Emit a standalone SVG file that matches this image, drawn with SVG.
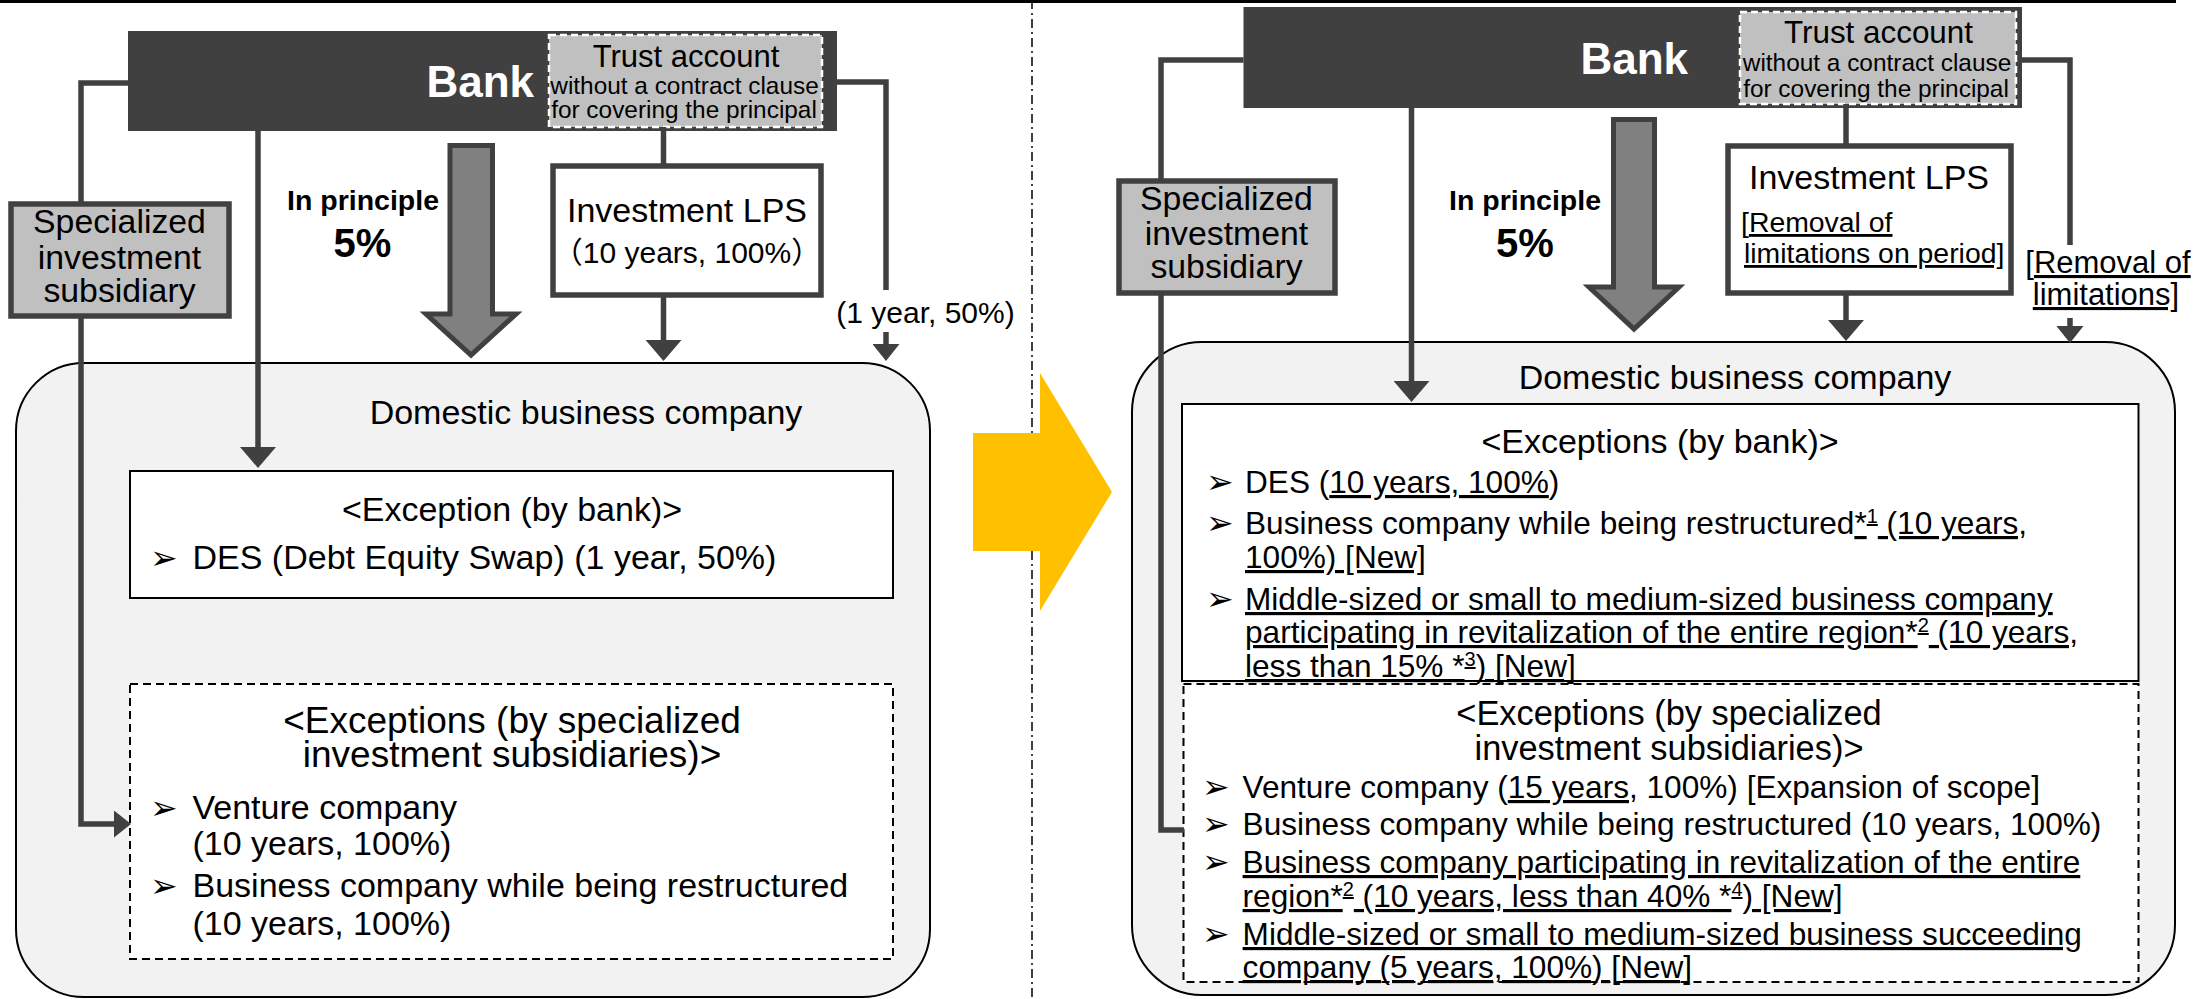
<svg xmlns="http://www.w3.org/2000/svg" width="2195" height="999" viewBox="0 0 2195 999">
<style>
text{font-family:"Liberation Sans",Arial,"Noto Sans CJK JP",sans-serif;fill:#000}
.b{font-weight:bold}
.w{fill:#fff}
.c{text-anchor:middle}
.e{text-anchor:end}
.u{text-decoration:underline}
.bul{font-family:"DejaVu Sans",sans-serif;font-size:33px}
.bank{fill:#404040}
.trust{fill:#c0c0c0;stroke:#fff;stroke-width:2.5;stroke-dasharray:7 4}
.sub{fill:#c0c0c0;stroke:#404040;stroke-width:5.5}
.lps{fill:#fff;stroke:#404040;stroke-width:5.5}
.dom{fill:#f2f2f2;stroke:#000;stroke-width:2}
.exc{fill:#fff;stroke:#000;stroke-width:2}
.exd{fill:#fff;stroke:#000;stroke-width:2;stroke-dasharray:8 5}
.big{fill:#808080;stroke:#404040;stroke-width:5}
.ln{fill:none;stroke:#404040;stroke-width:5.5}
.t34{font-size:34px}
.t316{font-size:31.6px}
</style>
<defs>
<marker id="ah" markerUnits="userSpaceOnUse" markerWidth="21" markerHeight="36" refX="0" refY="18" orient="auto" viewBox="0 0 21 36"><path d="M0,0L21,18L0,36Z" fill="#404040"/></marker>
<marker id="as" markerUnits="userSpaceOnUse" markerWidth="17" markerHeight="27" refX="0" refY="13.5" orient="auto" viewBox="0 0 17 27"><path d="M0,0L17,13.5L0,27Z" fill="#404040"/></marker>
</defs>

<!-- page frame: top rule and panel divider -->
<rect x="0" y="0" width="2176" height="3" fill="#000"/>
<line x1="1032" y1="0" x2="1032" y2="999" stroke="#000" stroke-width="1.5" stroke-dasharray="9 4 2 4"/>

<!-- ===== current system (left) ===== -->
<g id="domestic-left">
  <rect class="dom" x="16" y="363" width="914" height="634" rx="68" ry="68"/>
  <text class="t34 c" x="586" y="424">Domestic business company</text>
</g>
<g id="exception-bank-left">
  <rect class="exc" x="130" y="471" width="763" height="127"/>
  <text class="t34 c" x="512" y="521">&lt;Exception (by bank)&gt;</text>
  <text class="bul" x="150" y="569">➢</text>
  <text class="t34" x="192.5" y="569">DES (Debt Equity Swap) (1 year, 50%)</text>
</g>
<g id="exception-sub-left">
  <rect class="exd" x="130" y="684" width="763" height="275"/>
  <text class="c" font-size="37" x="512" y="733">&lt;Exceptions (by specialized</text>
  <text class="c" font-size="37" x="512" y="767">investment subsidiaries)&gt;</text>
  <text class="bul" x="150" y="819">➢</text>
  <text class="t34" x="192.5" y="819">Venture company</text>
  <text class="t34" x="192.5" y="855">(10 years, 100%)</text>
  <text class="bul" x="150" y="897">➢</text>
  <text class="t34" x="192.5" y="897">Business company while being restructured</text>
  <text class="t34" x="192.5" y="935">(10 years, 100%)</text>
</g>
<g id="bank-left">
  <rect class="bank" x="128" y="31" width="709" height="100"/>
  <text class="b w e" font-size="44" x="534" y="97">Bank</text>
</g>
<g id="trust-left">
  <rect class="trust" x="549" y="35" width="273" height="92"/>
  <text class="c" font-size="31" x="686" y="67">Trust account</text>
  <text class="c" font-size="24.4" x="684.5" y="94">without a contract clause</text>
  <text class="c" font-size="24.4" x="684" y="118">for covering the principal</text>
</g>
<g id="subsidiary-left">
  <rect class="sub" x="11" y="204" width="218" height="112"/>
  <text class="c" font-size="33.8" x="119.5" y="233">Specialized</text>
  <text class="c" font-size="33.8" x="119.5" y="269">investment</text>
  <text class="c" font-size="33.8" x="119.5" y="302">subsidiary</text>
</g>
<g id="lps-left">
  <rect class="lps" x="553" y="166" width="268" height="129"/>
  <text class="t34 c" x="687" y="222">Investment LPS</text>
  <text class="c" font-size="30" x="687" y="263">（10 years, 100%）</text>
</g>
<g id="principle-left">
  <polygon class="big" points="450,145.5 492.5,145.5 492.5,314 516,314 471,355 426,314 450,314"/>
  <text class="b c" font-size="28.5" x="363" y="210">In principle</text>
  <text class="b c" font-size="40" x="362.5" y="257">5%</text>
</g>
<text class="c" font-size="30" x="925.5" y="323">(1 year, 50%)</text>

<!-- change arrow between panels -->
<polygon fill="#ffc000" points="973,433 1040,433 1040,373 1112,492 1040,611 1040,551 973,551"/>

<!-- ===== revised system (right) ===== -->
<g id="domestic-right">
  <rect class="dom" x="1132" y="342" width="1043" height="653" rx="70" ry="70"/>
  <text class="t34 c" x="1735" y="389">Domestic business company</text>
</g>
<g id="exception-bank-right">
  <rect class="exc" x="1182" y="404" width="956.5" height="277"/>
  <text class="t34 c" x="1660" y="453">&lt;Exceptions (by bank)&gt;</text>
  <text class="bul" x="1206" y="493">➢</text>
  <text class="t316" x="1245" y="493">DES (<tspan class="u">10 years, 100%</tspan>)</text>
  <text class="bul" x="1206" y="534">➢</text>
  <text class="t316" x="1245" y="534">Business company while being restructured<tspan class="u">*<tspan font-size="20" dy="-11">1</tspan><tspan dy="11"> (10 years,</tspan></tspan></text>
  <text class="t316 u" x="1245" y="568">100%) [New]</text>
  <text class="bul" x="1206" y="610">➢</text>
  <text class="t316 u" x="1245" y="610">Middle-sized or small to medium-sized business company</text>
  <text class="t316 u" x="1245" y="643">participating in revitalization of the entire region*<tspan font-size="20" dy="-11">2</tspan><tspan dy="11"> (10 years,</tspan></text>
  <text class="t316 u" x="1245" y="677">less than 15% *<tspan font-size="20" dy="-11">3</tspan><tspan dy="11">) [New]</tspan></text>
</g>
<g id="exception-sub-right">
  <rect class="exd" x="1183.5" y="684" width="955" height="298"/>
  <text class="c" font-size="34.4" x="1669" y="725">&lt;Exceptions (by specialized</text>
  <text class="c" font-size="34.4" x="1669" y="760">investment subsidiaries)&gt;</text>
  <text class="bul" x="1202" y="798">➢</text>
  <text class="t316" x="1242.6" y="798">Venture company (<tspan class="u">15 years</tspan>, 100%) [Expansion of scope]</text>
  <text class="bul" x="1202" y="835">➢</text>
  <text class="t316" x="1242.6" y="835">Business company while being restructured (10 years, 100%)</text>
  <text class="bul" x="1202" y="873">➢</text>
  <text class="t316 u" x="1242.6" y="873">Business company participating in revitalization of the entire</text>
  <text class="t316 u" x="1242.6" y="907">region*<tspan font-size="20" dy="-11">2</tspan><tspan dy="11"> (10 years, less than 40% *</tspan><tspan font-size="20" dy="-11">4</tspan><tspan dy="11">) [New]</tspan></text>
  <text class="bul" x="1202" y="945">➢</text>
  <text class="t316 u" x="1242.6" y="945">Middle-sized or small to medium-sized business succeeding</text>
  <text class="t316 u" x="1242.6" y="978">company (5 years, 100%) [New]</text>
</g>
<g id="bank-right">
  <rect class="bank" x="1243.5" y="7" width="778.5" height="101"/>
  <text class="b w e" font-size="44" x="1688" y="74">Bank</text>
</g>
<g id="trust-right">
  <rect class="trust" x="1740" y="12" width="276" height="92"/>
  <text class="c" font-size="31.4" x="1878.5" y="43">Trust account</text>
  <text class="c" font-size="24.4" x="1877" y="71">without a contract clause</text>
  <text class="c" font-size="24.4" x="1876" y="97">for covering the principal</text>
</g>
<g id="subsidiary-right">
  <rect class="sub" x="1119" y="181" width="216" height="112"/>
  <text class="c" font-size="33.8" x="1226.5" y="210">Specialized</text>
  <text class="c" font-size="33.8" x="1226.5" y="245">investment</text>
  <text class="c" font-size="33.8" x="1226.5" y="278">subsidiary</text>
</g>
<g id="lps-right">
  <rect class="lps" x="1728" y="146" width="283" height="147"/>
  <text class="t34 c" x="1869" y="189">Investment LPS</text>
  <text font-size="28.4" x="1741" y="232">[<tspan class="u">Removal of</tspan></text>
  <text class="u" font-size="28.4" x="1744" y="263">limitations on period]</text>
</g>
<g id="principle-right">
  <polygon class="big" points="1613.5,119.5 1654.5,119.5 1654.5,287 1679,287 1634,329 1589,287 1613.5,287"/>
  <text class="b c" font-size="28.5" x="1525" y="210">In principle</text>
  <text class="b c" font-size="40" x="1525" y="257">5%</text>
</g>
<text class="c" font-size="31" x="2108" y="273">[<tspan class="u">Removal of</tspan></text>
<text class="c u" font-size="31" x="2106" y="305">limitations]</text>

<!-- connectors -->
<g id="connectors">
  <path class="ln" d="M128,83H81V204"/>
  <path class="ln" d="M81,316V824H114" marker-end="url(#as)"/>
  <path class="ln" d="M258,131V447" marker-end="url(#ah)"/>
  <path class="ln" d="M663.5,127V166"/>
  <path class="ln" d="M663.5,295V340" marker-end="url(#ah)"/>
  <path class="ln" d="M837,82H886V290"/>
  <path class="ln" d="M886,332V344" marker-end="url(#as)"/>

  <path class="ln" d="M1243.5,60H1161V181"/>
  <path class="ln" d="M1161,293V830H1184"/>
  <path class="ln" d="M1411.5,108V381" marker-end="url(#ah)"/>
  <path class="ln" d="M1846,104V146"/>
  <path class="ln" d="M1846,293V320" marker-end="url(#ah)"/>
  <path class="ln" d="M2022,60H2070V245"/>
  <path class="ln" d="M2070,318V326" marker-end="url(#as)"/>
</g>
</svg>
